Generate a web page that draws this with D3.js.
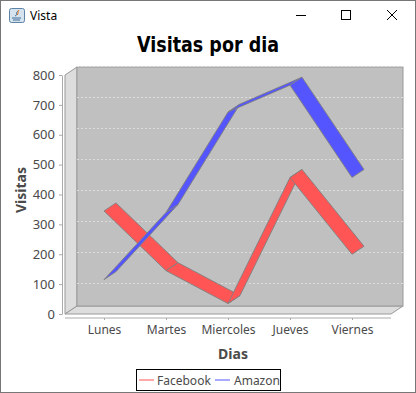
<!DOCTYPE html>
<html>
<head>
<meta charset="utf-8">
<script src="https://cdn.jsdelivr.net/npm/d3@7"></script>
<style>
    html, body { margin: 0; padding: 0; background: #fff; }
    svg { display: block; }
    text { fill: #4a4a4a; font-family: "Noto Sans", sans-serif; }
</style>
</head>
<body>
<div id="chart"></div>
<script>
// Chart data
const days = ['Lunes', 'Martes', 'Miercoles', 'Jueves', 'Viernes'];
const facebook = [345, 145, 35, 457, 200];
const amazon = [115, 340, 676, 766, 457];
const yTicks = [0, 100, 200, 300, 400, 500, 600, 700, 800];

const width = 416;
const height = 393;

// 3D offset of the back wall
const dx = 12;
const dy = -8;

const chart = d3.select('#chart')
    .append('svg')
    .attr('width', width)
    .attr('height', height);

// Scales
const x = d3.scalePoint().domain(days).range([104, 352]);
const y = d3.scaleLinear().domain([0, 800]).range([314, 75]);

// Gridlines do not follow the axis exactly, they span floor front to wall top
const yGrid = d3.scaleLinear().domain([0, 800]).range([314.5, 66.5]);

const left = 65, right = 391, bottom = y(0), top_ = y(800);

// Window frame
chart.append('rect')
    .attr('x', 0.5).attr('y', 0.5)
    .attr('width', width - 1).attr('height', height - 1)
    .attr('fill', '#fff')
    .attr('stroke', '#777');

// Title bar
const icon = chart.append('g').attr('transform', 'translate(9,8)');
icon.append('rect')
    .attr('x', 0.5).attr('y', 0.5)
    .attr('width', 15).attr('height', 14).attr('rx', 2)
    .attr('fill', '#d5e3ef').attr('stroke', '#5d83a6');
icon.append('path')
    .attr('d', 'M3 10h9M4 12h7M6 8c3-1 0-3 3-5')
    .attr('fill', 'none').attr('stroke', '#3f6c96');
icon.append('path')
    .attr('d', 'M8 7c2-1 0-3 2-5')
    .attr('fill', 'none').attr('stroke', '#e07020');

chart.append('text')
    .attr('x', 30).attr('y', 20)
    .attr('font-size', 12)
    .style('fill', '#000')
    .text('Vista');

chart.append('path')
    .attr('d', 'M296 15.5h10')
    .attr('stroke', '#000');
chart.append('rect')
    .attr('x', 341.5).attr('y', 10.5)
    .attr('width', 9).attr('height', 9)
    .attr('fill', 'none').attr('stroke', '#000');
chart.append('path')
    .attr('d', 'M387 10l10 10M397 10l-10 10')
    .attr('stroke', '#000');

// Chart title
chart.append('text')
    .attr('x', 208).attr('y', 52)
    .attr('text-anchor', 'middle')
    .attr('font-size', 21)
    .attr('font-weight', 'bold')
    .attr('textLength', 142)
    .attr('lengthAdjust', 'spacingAndGlyphs')
    .style('font-family', '"DejaVu Sans", sans-serif')
    .style('fill', '#000')
    .text('Visitas por dia');

// Walls
const wall = chart.append('g').attr('stroke', '#999');
wall.append('path')
    .attr('d', `M${left} ${bottom}V${top_}L${left + dx} ${top_ + dy}V${bottom + dy}Z`)
    .attr('fill', '#ddd');
wall.append('path')
    .attr('d', `M${left} ${bottom}L${left + dx} ${bottom + dy}H${right + dx}L${right} ${bottom}Z`)
    .attr('fill', '#ddd');
wall.append('rect')
    .attr('x', left + dx).attr('y', top_ + dy)
    .attr('width', right - left).attr('height', bottom - top_)
    .attr('fill', '#c0c0c0');

// Gridlines
chart.append('g')
    .selectAll('line')
    .data(yTicks.slice(1))
    .join('line')
    .attr('x1', left + dx)
    .attr('x2', right + dx)
    .attr('y1', d => yGrid(d))
    .attr('y2', d => yGrid(d))
    .attr('stroke', '#dcdcdc')
    .attr('stroke-dasharray', '2,2');

// Axes
const yAxis = chart.append('g')
    .attr('transform', `translate(${left - 3},0)`)
    .call(d3.axisLeft(y).tickValues(yTicks).tickSize(3).tickPadding(4).tickSizeOuter(0));
yAxis.selectAll('text').attr('font-size', 13);
yAxis.selectAll('.domain, line').attr('stroke', '#aaa');

const xAxis = chart.append('g')
    .attr('transform', `translate(0,${bottom + 4})`)
    .call(d3.axisBottom(x).tickSize(2).tickPadding(5).tickSizeOuter(0));
xAxis.select('.domain').attr('d', `M${left},0H${right}`);
xAxis.selectAll('text').attr('font-size', 12);
xAxis.selectAll('.domain, line').attr('stroke', '#aaa');

// Axis labels
chart.append('text')
    .attr('x', 233).attr('y', 359)
    .attr('text-anchor', 'middle')
    .attr('font-size', 14)
    .attr('font-weight', 'bold')
    .text('Dias');

chart.append('text')
    .attr('transform', 'translate(26,190) rotate(-90)')
    .attr('text-anchor', 'middle')
    .attr('font-size', 14)
    .attr('font-weight', 'bold')
    .text('Visitas');

// Ribbons, one polygon per segment
const seriesList = [
    { name: 'Facebook', values: facebook, color: '#ff5555' },
    { name: 'Amazon', values: amazon, color: '#5555ff' }
];

seriesList.forEach(series => {
    const segments = d3.pairs(series.values.map((v, i) => [x(days[i]), y(v)]));
    chart.append('g')
        .selectAll('path')
        .data(segments)
        .join('path')
        .attr('d', ([a, b]) => `M${a[0]} ${a[1]}L${b[0]} ${b[1]}L${b[0] + dx} ${b[1] + dy}L${a[0] + dx} ${a[1] + dy}Z`)
        .attr('fill', series.color)
        .attr('stroke', '#808080')
        .attr('stroke-width', 0.9);
});

// Legend
const legend = chart.append('g');
legend.append('rect')
    .attr('x', 136.5).attr('y', 369.5)
    .attr('width', 144).attr('height', 21)
    .attr('fill', '#fff')
    .attr('stroke', '#000');

[{ s: seriesList[0], lx: 139, tx: 157 }, { s: seriesList[1], lx: 215, tx: 234 }].forEach(d => {
    legend.append('line')
        .attr('x1', d.lx).attr('x2', d.lx + 15)
        .attr('y1', 380).attr('y2', 380)
        .style('stroke', d.s.color);
    legend.append('text')
        .attr('x', d.tx).attr('y', 384.5)
        .attr('font-size', 12)
        .text(d.s.name);
});
</script>
</body>
</html>
